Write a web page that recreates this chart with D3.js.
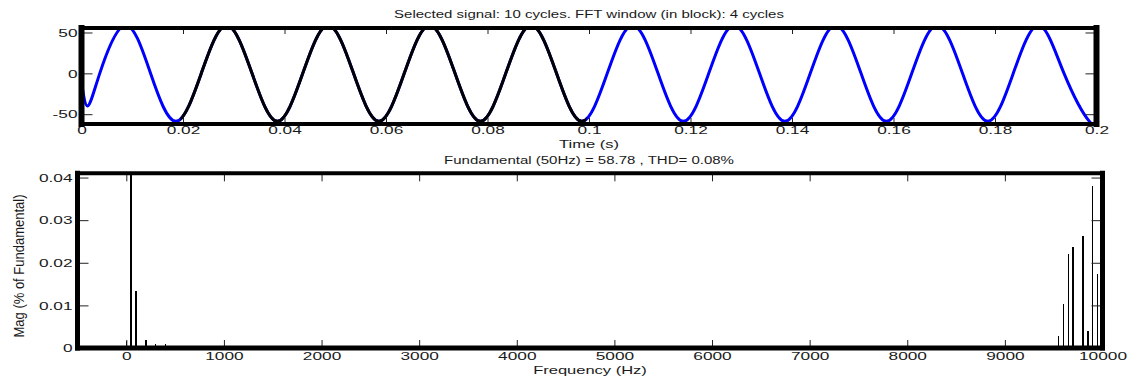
<!DOCTYPE html>
<html>
<head>
<meta charset="utf-8">
<script src="https://cdn.jsdelivr.net/npm/d3@7"></script>
<style>
  body { margin: 0; background: #fff; }
  svg text { font-family: "Liberation Sans", Arial, sans-serif; fill: #1a1a1a; }
</style>
</head>
<body>
<div id="chart"></div>
<script>
// selected signal: knots (time in s, value)
const sigTime = [0, 0.0012,
  0.0036, 0.0086, 0.0136, 0.0186, 0.0236, 0.0286, 0.0336, 0.0386, 0.0436, 0.0486,
  0.0536, 0.0586, 0.0636, 0.0686, 0.0736, 0.0786, 0.0836, 0.0886, 0.0936, 0.0986,
  0.1036, 0.1086, 0.1136, 0.1186, 0.1236, 0.1286, 0.1336, 0.1386, 0.1436, 0.1486,
  0.1536, 0.1586, 0.1636, 0.1686, 0.1736, 0.1786, 0.1836, 0.1886, 0.1936, 0.1986,
  0.2];
const sigValue = [-11, -40,
  0, 58.78, 0, -58.78, 0, 58.78, 0, -58.78, 0, 58.78,
  0, -58.78, 0, 58.78, 0, -58.78, 0, 58.78, 0, -58.78,
  0, 58.78, 0, -58.78, 0, 58.78, 0, -58.78, 0, 58.78,
  0, -58.78, 0, 58.78, 0, -58.78, 0, 58.78, 0, -58.78,
  -53];
const fftWindow = [0.0195, 0.0995];
const timeTicks = [0, 0.02, 0.04, 0.06, 0.08, 0.1, 0.12, 0.14, 0.16, 0.18, 0.2];
const timeTickLabels = ["0", "0.02", "0.04", "0.06", "0.08", "0.1", "0.12", "0.14", "0.16", "0.18", "0.2"];
const sigTicks = [-50, 0, 50];
const sigTickLabels = ["-50", "0", "50"];

// FFT spectrum (Hz, % of fundamental); the fundamental runs off the top
const harmFreq = [0, 50, 100, 200, 300, 400, 9450, 9550, 9600, 9650, 9700, 9800, 9850, 9900, 9950];
const harmMag = [0.00155, 100, 0.0133, 0.0019, 0.00085, 0.00085, 0.0004, 0.0027, 0.0104, 0.0221, 0.0236, 0.0264, 0.0041, 0.0381, 0.0174];
const freqTicks = [0, 1000, 2000, 3000, 4000, 5000, 6000, 7000, 8000, 9000, 10000];
const freqTickLabels = ["0", "1000", "2000", "3000", "4000", "5000", "6000", "7000", "8000", "9000", "10000"];
const magTicks = [0, 0.01, 0.02, 0.03, 0.04];
const magTickLabels = ["0", "0.01", "0.02", "0.03", "0.04"];

const titleTop = "Selected signal: 10 cycles. FFT window (in block): 4 cycles";
const titleBottom = "Fundamental (50Hz) = 58.78 , THD= 0.08%";

const W = 1129, H = 381;
const STRETCH = 1.5;   // matlab-ish wide glyphs

const svg = d3.select("#chart").append("svg")
  .attr("width", W).attr("height", H)
  .attr("viewBox", `0 0 ${W} ${H}`)
  .style("display", "block");

const xT = d3.scaleLinear().domain([0, 0.2]).range([81.5, 1096.5]);
const yT = d3.scaleLinear().domain([-62, 55.5]).range([124, 28]);
const xF = d3.scaleLinear().domain([-500, 10000]).range([77.5, 1102.5]);
const yF = d3.scaleLinear().domain([0, 0.041]).range([348, 173.3]).clamp(true);

const defs = svg.append("defs");
defs.append("clipPath").attr("id", "clipTop")
  .append("rect")
  .attr("x", xT.range()[0]).attr("y", yT.range()[1])
  .attr("width", xT.range()[1] - xT.range()[0])
  .attr("height", yT.range()[0] - yT.range()[1]);
defs.append("clipPath").attr("id", "clipWin")
  .append("rect")
  .attr("x", xT(fftWindow[0])).attr("y", 0)
  .attr("width", xT(fftWindow[1]) - xT(fftWindow[0]))
  .attr("height", 140);

// ---------- top plot: signal ----------
const line = d3.line()
  .x(i => xT(sigTime[i]))
  .y(i => yT(sigValue[i]))
  .curve(d3.curveNatural);
const idx = d3.range(sigTime.length);

const gTop = svg.append("g");
gTop.append("path")
  .attr("d", line(idx))
  .attr("clip-path", "url(#clipTop)")
  .attr("fill", "none")
  .attr("stroke", "#0000ff")
  .attr("stroke-width", 3);
gTop.append("g").attr("clip-path", "url(#clipTop)")
  .append("path")
  .attr("d", line(idx))
  .attr("clip-path", "url(#clipWin)")
  .attr("fill", "none")
  .attr("stroke", "#000")
  .attr("stroke-width", 3);

// ---------- bottom plot: spectrum ----------
const barHz = 15;
svg.append("g").selectAll("rect")
  .data(harmFreq)
  .join("rect")
    .attr("x", d => xF(d - barHz / 2))
    .attr("width", d => xF(d + barHz / 2) - xF(d - barHz / 2))
    .attr("y", (d, i) => yF(harmMag[i]))
    .attr("height", (d, i) => yF(0) - yF(harmMag[i]))
    .attr("fill", "#000")
    .attr("shape-rendering", "crispEdges");

// ---------- axes ----------
function styleAxis(g, pad) {
  g.select(".domain").remove();
  g.attr("font-size", null).attr("font-family", null);
  g.selectAll(".tick line").attr("stroke", "#222").attr("stroke-width", 1);
  g.selectAll(".tick text").attr("class", "stretch").style("font-size", "11.5px").attr("fill", "#1a1a1a");
}

function axes(x, y, xt, xl, yt, yl, xTick, yTick, xPad, yPad) {
  const [x0, x1] = x.range(), [y0, y1] = y.range();
  svg.append("g").attr("transform", `translate(0,${y0})`)
    .call(d3.axisBottom(x).tickValues(xt).tickFormat((d, i) => xl[i]).tickSizeInner(-xTick).tickSizeOuter(0).tickPadding(xPad))
    .call(styleAxis);
  svg.append("g").attr("transform", `translate(0,${y1})`)
    .call(d3.axisTop(x).tickValues(xt).tickFormat("").tickSizeInner(-xTick).tickSizeOuter(0))
    .call(styleAxis);
  svg.append("g").attr("transform", `translate(${x0},0)`)
    .call(d3.axisLeft(y).tickValues(yt).tickFormat((d, i) => yl[i]).tickSizeInner(-yTick).tickSizeOuter(0).tickPadding(yPad))
    .call(styleAxis);
  svg.append("g").attr("transform", `translate(${x1},0)`)
    .call(d3.axisRight(y).tickValues(yt).tickFormat("").tickSizeInner(-yTick).tickSizeOuter(0))
    .call(styleAxis);
}

function frame(x, y, vw, hw, bw) {
  const [x0, x1] = x.range(), [y0, y1] = y.range();
  const f = svg.append("g").attr("stroke", "#000").attr("stroke-linecap", "square");
  f.append("line").attr("x1", x0).attr("x2", x1).attr("y1", y1).attr("y2", y1).attr("stroke-width", hw);
  f.append("line").attr("x1", x0).attr("x2", x1).attr("y1", y0).attr("y2", y0).attr("stroke-width", bw);
  f.append("line").attr("x1", x0).attr("x2", x0).attr("y1", y0).attr("y2", y1).attr("stroke-width", vw);
  f.append("line").attr("x1", x1).attr("x2", x1).attr("y1", y0).attr("y2", y1).attr("stroke-width", vw);
}

axes(xT, yT, timeTicks, timeTickLabels, sigTicks, sigTickLabels, 6, 11, 2, 4);
frame(xT, yT, 6, 4, 4);
axes(xF, yF, freqTicks, freqTickLabels, magTicks, magTickLabels, 8, 11, 4, 5);
frame(xF, yF, 5, 4, 5);

// ---------- titles and labels ----------
const cx = (xT.range()[0] + xT.range()[1]) / 2;
svg.append("text").attr("class", "stretch")
  .attr("x", cx).attr("y", 18).attr("text-anchor", "middle")
  .style("font-size", "10px").text(titleTop);
svg.append("text").attr("class", "stretch")
  .attr("x", cx).attr("y", 148).attr("text-anchor", "middle")
  .style("font-size", "11px").text("Time (s)");
svg.append("text").attr("class", "stretch")
  .attr("x", cx).attr("y", 164).attr("text-anchor", "middle")
  .style("font-size", "10px").text(titleBottom);
svg.append("text").attr("class", "stretch")
  .attr("x", (xF.range()[0] + xF.range()[1]) / 2).attr("y", 374).attr("text-anchor", "middle")
  .style("font-size", "11px").text("Frequency (Hz)");
svg.append("text")
  .attr("transform", "translate(19,266) rotate(-90)")
  .attr("text-anchor", "middle").attr("dy", "0.35em")
  .style("font-size", "14px")
  .attr("textLength", 143).attr("lengthAdjust", "spacingAndGlyphs")
  .text("Mag (% of Fundamental)");

// widen glyphs the way the original renderer does
svg.selectAll("text.stretch").each(function () {
  const len = this.getComputedTextLength();
  d3.select(this).attr("textLength", len * STRETCH).attr("lengthAdjust", "spacingAndGlyphs");
});
</script>
</body>
</html>
